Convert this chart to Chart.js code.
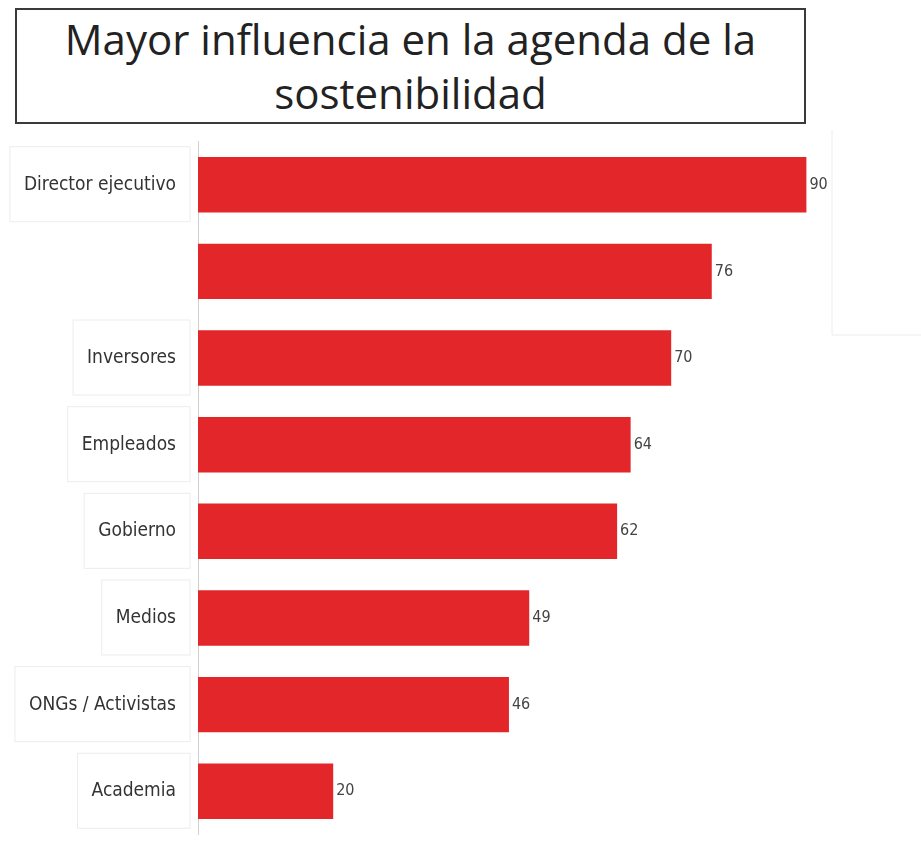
<!DOCTYPE html>
<html>
<head>
<meta charset="utf-8">
<script src="https://cdn.jsdelivr.net/npm/chart.js@4"></script>
<style>
  body { margin: 0; background: #fff; width: 921px; height: 843px; overflow: hidden; position: relative; }
  #title {
    position: absolute; left: 15px; top: 8px; width: 787px; height: 110px;
    border: 2px solid #3a3a3a; box-sizing: content-box;
    font-family: "Open Sans", "Liberation Sans", sans-serif; font-size: 42px; line-height: 54px;
    color: #222; text-align: center; padding-top: 2px;
  }
  #chart { position: absolute; left: 0; top: 108px; }
</style>
</head>
<body>
<div id="title">Mayor influencia en la agenda de la<br>sostenibilidad</div>
<canvas id="chart" width="921" height="760"></canvas>
<script>
const categories = ['Director ejecutivo', '', 'Inversores', 'Empleados', 'Gobierno', 'Medios', 'ONGs / Activistas', 'Academia'];
const values = [90, 76, 70, 64, 62, 49, 46, 20];

const labelFont = '"DejaVu Sans Condensed", "Liberation Sans Narrow", sans-serif';

// faint frames behind the category labels, as in the source image
const labelBoxes = {
  id: 'labelBoxes',
  beforeDraw(chart) {
    const ctx = chart.ctx;
    const y = chart.scales.y;
    ctx.save();
    ctx.font = '19px ' + labelFont;
    ctx.strokeStyle = '#ececec';
    ctx.lineWidth = 1;
    categories.forEach((c, i) => {
      if (!c) return;
      const cy = y.getPixelForValue(i);
      const w = ctx.measureText(c).width;
      const left = 176 - w - 14;
      ctx.strokeRect(left, cy - 38, 190 - left, 75);
    });
    // stray frame line at top right
    ctx.beginPath();
    ctx.moveTo(832, 22);
    ctx.lineTo(832, 227);
    ctx.lineTo(921, 227);
    ctx.stroke();
    ctx.restore();
  }
};

const valueLabels = {
  id: 'valueLabels',
  afterDatasetsDraw(chart) {
    const ctx = chart.ctx;
    const meta = chart.getDatasetMeta(0);
    ctx.save();
    ctx.font = '16px ' + labelFont;
    ctx.fillStyle = '#444';
    ctx.textAlign = 'left';
    ctx.textBaseline = 'middle';
    meta.data.forEach((bar, i) => {
      ctx.fillText(values[i], bar.x + 3, bar.y);
    });
    ctx.restore();
  }
};

new Chart(document.getElementById('chart'), {
  type: 'bar',
  data: {
    labels: categories,
    datasets: [{
      data: values,
      backgroundColor: '#e3262a',
      barPercentage: 0.64,
      categoryPercentage: 1
    }]
  },
  options: {
    indexAxis: 'y',
    responsive: false,
    animation: false,
    layout: { padding: { top: 11, bottom: 10, right: 47, left: 0 } },
    plugins: { legend: { display: false }, tooltip: { enabled: false } },
    scales: {
      x: { display: false, min: 0, max: 100 },
      y: {
        afterFit(scale) { scale.width = 198; },
        grid: { display: false, drawTicks: false },
        border: { display: true, color: '#d0d0d0', width: 1 },
        ticks: {
          padding: 22,
          color: '#333',
          font: { family: labelFont, size: 19 }
        }
      }
    }
  },
  plugins: [labelBoxes, valueLabels]
});
</script>
</body>
</html>
